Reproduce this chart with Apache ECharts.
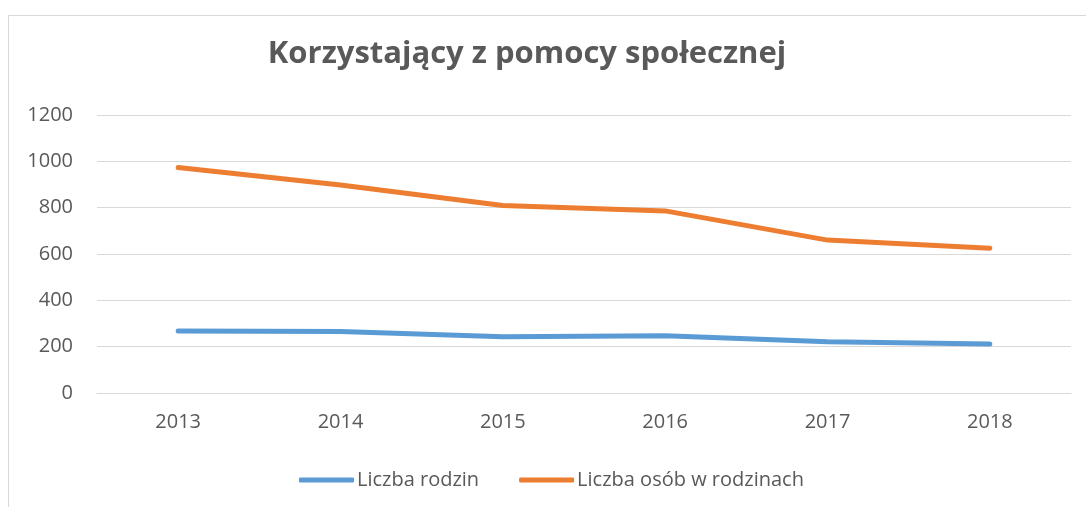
<!DOCTYPE html>
<html>
<head>
<meta charset="utf-8">
<script src="https://cdn.jsdelivr.net/npm/echarts@6/dist/echarts.min.js"></script>
<style>
  html, body { margin: 0; padding: 0; background: #fff; }
  #frame { position: absolute; left: 8px; top: 15px; width: 1090px; height: 500px; border: 1px solid #d9d9d9; box-sizing: border-box; }
  #chart { position: absolute; left: 0; top: 0; width: 1086px; height: 507px; }
</style>
</head>
<body>
<div id="frame"></div>
<div id="chart"></div>
<script>
  const years = ['2013', '2014', '2015', '2016', '2017', '2018']
  const rodziny = [268, 266, 243, 247, 221, 211]
  const osoby = [973, 898, 809, 786, 660, 625]
  const yTicks = [0, 200, 400, 600, 800, 1000, 1200]

  const textColor = '#595959'
  const font = '"Open Sans", "Noto Sans", sans-serif'

  const chart = echarts.init(document.getElementById('chart'))

  chart.setOption({
    animation: false,
    title: {
      text: 'Korzystający z pomocy społecznej',
      left: 522,
      top: 34,
      textAlign: 'center',
      textStyle: { color: textColor, fontSize: 31, fontWeight: 'bold', fontFamily: font }
    },
    legend: {
      left: 294,
      top: 465,
      icon: 'roundRect',
      itemWidth: 55,
      itemHeight: 5,
      itemGap: 40,
      textStyle: { color: textColor, fontSize: 20, fontFamily: font, padding: [0, 0, 0, -2] },
      data: ['Liczba rodzin', 'Liczba osób w rodzinach']
    },
    grid: { left: 97, right: 15, top: 115, bottom: 114 },
    xAxis: {
      type: 'category',
      data: years,
      boundaryGap: true,
      axisLine: { lineStyle: { color: '#d9d9d9', width: 1 } },
      axisTick: { show: false },
      axisLabel: { color: textColor, fontSize: 20, fontFamily: font, margin: 19 }
    },
    yAxis: {
      type: 'value',
      min: yTicks[0],
      max: yTicks[yTicks.length - 1],
      interval: 200,
      axisLine: { show: false },
      axisTick: { show: false },
      splitLine: { lineStyle: { color: '#d9d9d9', width: 1 } },
      axisLabel: {
        color: textColor,
        fontSize: 20,
        fontFamily: font,
        margin: 24,
        formatter: (v) => String(v)
      }
    },
    series: [
      {
        name: 'Liczba rodzin',
        type: 'line',
        data: rodziny,
        symbol: 'none',
        color: '#5b9bd5',
        lineStyle: { width: 5, cap: 'round', join: 'round' }
      },
      {
        name: 'Liczba osób w rodzinach',
        type: 'line',
        data: osoby,
        symbol: 'none',
        color: '#ed7d31',
        lineStyle: { width: 5, cap: 'round', join: 'round' }
      }
    ]
  })

  window.addEventListener('resize', () => chart.resize())
</script>
</body>
</html>
